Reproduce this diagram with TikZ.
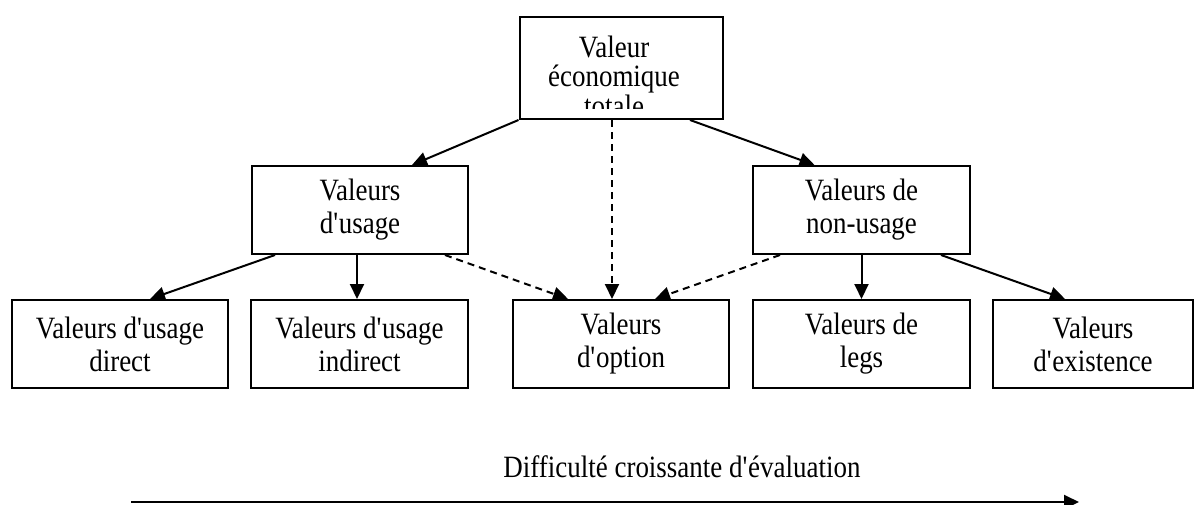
\documentclass[tikz,border=0pt]{standalone}
\usepackage{fontspec}
\setmainfont{Liberation Serif}[FakeStretch=0.87]
\usetikzlibrary{arrows.meta,calc}
\newcommand{\aq}{\textquotesingle}
\begin{document}
\begin{tikzpicture}[x=1pt,y=-1pt,
  txt/.style={font=\fontsize{31}{33}\selectfont, align=center, inner sep=0pt},
  box/.style={draw, line width=2pt, inner sep=0pt, font=\fontsize{31}{33}\selectfont, align=center, minimum height=88pt},
  conn/.style={line width=2pt, -{Triangle[length=15pt,width=14pt]}},
  dconn/.style={conn, dash pattern=on 7pt off 5pt}]
\useasboundingbox (0,0) rectangle (1196,504);
\clip (0,0) rectangle (1196,504);
% boxes
\node[box, minimum width=203pt, minimum height=102pt] (tot) at (621.5,68) {};
\begin{scope}
  \clip (521,18) rectangle (722,108.5);
  \node[txt, font=\fontsize{31}{29.5}\selectfont] at (614,76) {Valeur\\économique\\totale};
\end{scope}
\node[box, minimum width=216pt] (usage) at (360,210) {Valeurs\\d\aq usage};
\node[box, minimum width=217pt] (nonuse) at (861.5,210) {Valeurs de\\non-usage};
\node[box, minimum width=216pt] (direct) at (120,344) {Valeurs d\aq usage\\direct};
\node[box, minimum width=217pt] (indirect) at (359.5,344) {Valeurs d\aq usage\\indirect};
\node[box, minimum width=216pt] (option) at (621,344) {Valeurs\\d\aq option};
\node[box, minimum width=217pt] (legs) at (861.5,344) {Valeurs de\\legs};
\node[box, minimum width=200pt] (exist) at (1093,344) {Valeurs\\d\aq existence};
% connectors
\draw[conn] ($(tot.south)+(-103,0)$) -- ($(usage.north)+(52,0)$);
\draw[conn] ($(tot.south)+(68.5,0)$) -- ($(nonuse.north)+(-47,0)$);
\draw[dconn] ($(tot.south)+(-9.5,0)$) -- ($(option.north)+(-9,0)$);
\draw[conn] ($(usage.south)+(-85,0)$) -- ($(direct.north)+(30,0)$);
\draw[conn] ($(usage.south)+(-3,0)$) -- ($(indirect.north)+(-2.5,0)$);
\draw[dconn] ($(usage.south)+(85,0)$) -- ($(option.north)+(-53,0)$);
\draw[dconn] ($(nonuse.south)+(-81.5,0)$) -- ($(option.north)+(34,0)$);
\draw[conn] (nonuse.south) -- (legs.north);
\draw[conn] ($(nonuse.south)+(79.5,0)$) -- ($(exist.north)+(-28,0)$);
% bottom
\node[txt] (diff) at (682,467) {Difficulté croissante d\aq évaluation};
\coordinate (a0) at (131,502);
\coordinate (a1) at (1079,502);
\draw[conn] (a0) -- (a1);
\end{tikzpicture}
\end{document}
